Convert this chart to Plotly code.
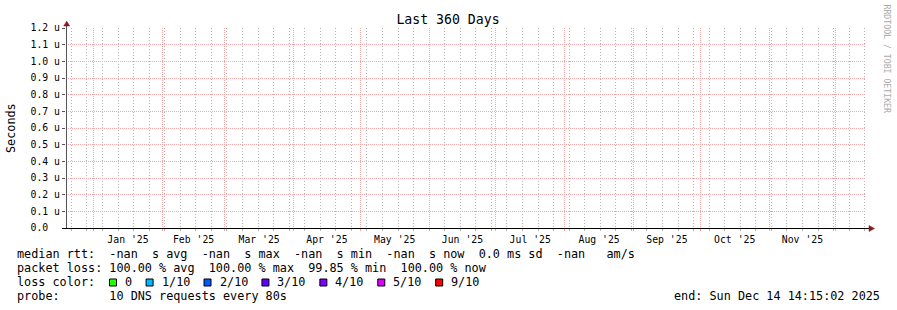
import datetime as dt
import plotly.graph_objects as go

# ---------------- data ----------------
START_TIME = "2024-12-19 14:15:02"
END_TIME = "2025-12-14 14:15:02"
sample_times = [START_TIME, END_TIME]
median_rtt_s = [None, None]          # every sample is -nan

y_tick_values = [0.0, 0.1e-6, 0.2e-6, 0.3e-6, 0.4e-6, 0.5e-6, 0.6e-6,
                 0.7e-6, 0.8e-6, 0.9e-6, 1.0e-6, 1.1e-6, 1.2e-6]
y_tick_labels = ["0.0", "0.1 u", "0.2 u", "0.3 u", "0.4 u", "0.5 u", "0.6 u",
                 "0.7 u", "0.8 u", "0.9 u", "1.0 u", "1.1 u", "1.2 u"]

title_text = "Last 360 Days"
y_title = "Seconds"
rtt_line = "median rtt:  -nan  s avg  -nan  s max  -nan  s min  -nan  s now  0.0 ms sd  -nan   am/s"
loss_line = "packet loss: 100.00 % avg  100.00 % max  99.85 % min  100.00 % now"
loss_color_title = "loss color:"
loss_labels = ["0", "1/10", "2/10", "3/10", "4/10", "5/10", "9/10"]
loss_colors = ["#26ff00", "#00b8ff", "#0059ff", "#5e00ff", "#7e00ff", "#dd00ff", "#ff0000"]
probe_line = "probe:       10 DNS requests every 80s"
watermark = "RRDTOOL / TOBI OETIKER"

# ---------------- layout geometry ----------------
W, H = 897, 310
L, T, PW, PH = 66, 28, 800, 200
MONO = "DejaVu Sans Mono"
LEG_FS = 11.8
CW = 0.6021 * LEG_FS

def px(x):
    return (x - L) / PW

def py(y):
    return (T + PH - y) / PH

def nb(s):
    return s.replace(" ", "\u00a0")

MAJOR = "#f2a8a8"
MINOR = "#b4b4b4"
ARROW = "#8b1a1a"

fig = go.Figure()
fig.add_trace(go.Scatter(x=sample_times, y=median_rtt_s, mode="lines",
                         line=dict(color="#26ff00", width=1), showlegend=False,
                         hoverinfo="skip"))

end_dt = dt.datetime.strptime(END_TIME, "%Y-%m-%d %H:%M:%S")
end_text = "end: " + end_dt.strftime("%a %b %d %H:%M:%S %Y")

ann = []
def text(x, y, s, size=LEG_FS, xanchor="left", color="black", angle=0):
    ann.append(dict(x=px(x), y=py(y), xref="paper", yref="paper", text=nb(s),
                    showarrow=False, xanchor=xanchor, yanchor="middle",
                    textangle=angle, borderpad=0,
                    font=dict(family=MONO, size=size, color=color)))

text(16, 254.4, rtt_line)
text(16, 268.4, loss_line)
text(16, 282.4, loss_color_title)
text(16, 296.4, probe_line)
text(881, 296.4, end_text, xanchor="right")
text(11, 128, y_title, angle=-90, xanchor="center")
text(886, 59.5, watermark, size=8.2, color="#aaaaaa", angle=90, xanchor="center")

shapes = []
bx = 109.0
for lab, col in zip(loss_labels, loss_colors):
    shapes.append(dict(type="rect", xref="paper", yref="paper",
                       x0=px(bx + 0.5), x1=px(bx + 7.5), y0=py(286), y1=py(279),
                       fillcolor=col, line=dict(color="black", width=1)))
    text(bx + 15, 282.4, lab)
    bx = bx + 15 + len(lab) * CW + 14.5

# axes lines and arrows
shapes.append(dict(type="line", xref="paper", yref="paper",
                   x0=px(66.5), x1=px(66.5), y0=py(228), y1=py(24),
                   line=dict(color="#555555", width=1)))
shapes.append(dict(type="line", xref="paper", yref="paper",
                   x0=px(62), x1=px(869), y0=py(228.5), y1=py(228.5),
                   line=dict(color="black", width=1)))
shapes.append(dict(type="path", xref="paper", yref="paper",
                   path=f"M {px(66.7)},{py(21.2)} L {px(69.7)},{py(26)} L {px(63.7)},{py(26)} Z",
                   fillcolor=ARROW, line=dict(color=ARROW, width=0.5)))
shapes.append(dict(type="path", xref="paper", yref="paper",
                   path=f"M {px(874.5)},{py(228.5)} L {px(869)},{py(225.5)} L {px(869)},{py(231.5)} Z",
                   fillcolor=ARROW, line=dict(color=ARROW, width=0.5)))

fig.update_layout(
    width=W, height=H, autosize=False,
    margin=dict(l=L, r=W - L - PW, t=T, b=H - T - PH, pad=0),
    paper_bgcolor="white", plot_bgcolor="white",
    font=dict(family=MONO, size=9.8, color="black"),
    title=dict(text=title_text, x=448 / W, xref="container", xanchor="center",
               y=1 - 19.5 / H, yref="container", yanchor="middle",
               font=dict(family=MONO, size=13.2, color="black")),
    showlegend=False,
    annotations=ann,
    shapes=shapes,
    xaxis=dict(type="date", range=[START_TIME, END_TIME],
               tick0="2025-01-01", dtick="M1", tickformat="%b '%y",
               ticklabelmode="period",
               showgrid=True, gridcolor=MAJOR, griddash="1px,1px", gridwidth=1,
               ticks="outside", ticklen=2, tickcolor=MAJOR,
               showline=False, zeroline=False,
               tickfont=dict(family=MONO, size=9.8, color="black"),
               minor=dict(tick0="2024-12-22", dtick=7 * 86400000, showgrid=True,
                          gridcolor=MINOR, griddash="1px,2px", gridwidth=1,
                          ticks="outside", ticklen=2, tickcolor=MINOR),
               fixedrange=True),
    yaxis=dict(range=[0, 1.2e-6], tickmode="array", tickvals=y_tick_values,
               ticktext=[nb(t.ljust(5)) for t in y_tick_labels],
               showgrid=True, gridcolor=MAJOR, griddash="1px,1px", gridwidth=1,
               ticks="outside", ticklen=3, tickcolor="#555555",
               showline=False, zeroline=False,
               tickfont=dict(family=MONO, size=9.8, color="black"),
               fixedrange=True),
)

fig.write_html("out.html")
